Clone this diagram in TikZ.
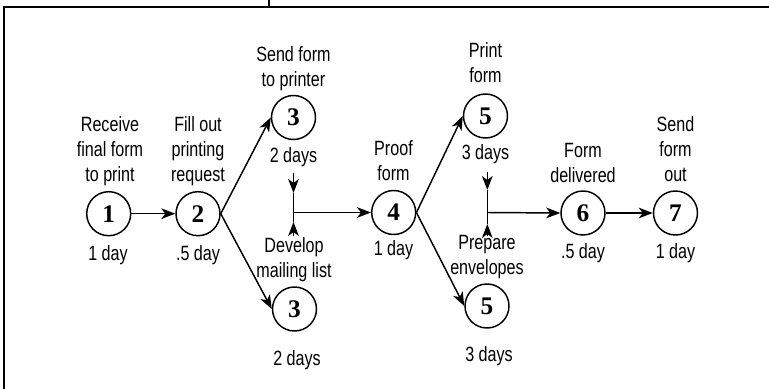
\documentclass[tikz,border=0pt]{standalone}
\usepackage{fontspec}
\usetikzlibrary{arrows.meta}
\newfontfamily\lblfont{Liberation Sans}[FakeStretch=0.78]
\newfontfamily\numfont{Liberation Serif}
\begin{document}
\begin{tikzpicture}[x=0.75pt,y=-0.75pt,
  arr/.style={line width=1.1pt,-{Stealth[length=10.5pt,width=8pt,inset=3pt]}},
  link/.style={line width=1.1pt},
  event/.style={circle,draw,line width=1.1pt,minimum size=33pt,inner sep=0pt,
    font=\numfont\bfseries\fontsize{19}{20}\selectfont},
  task/.style={align=center,inner sep=0pt,text depth=3.7pt,anchor=south,
    font=\lblfont\fontsize{15.5}{18.75}\selectfont},
  dur/.style={inner sep=0pt,anchor=base,font=\lblfont\fontsize{15.5}{18.75}\selectfont}]
\useasboundingbox (0,0) rectangle (769,389);

% frame
\draw[line width=1.7pt] (4,389) -- (4,7) -- (769,7);
\draw[line width=0.8pt] (269,0) -- (269,7);

% events
\node[event] (n1)  at (108.7,213.7) {1};
\node[event] (n2)  at (198,213.7) {2};
\node[event] (n3a) at (293.5,117.5) {3};
\node[event] (n3b) at (294.5,309) {3};
\node[event] (n4)  at (393.7,212.5) {4};
\node[event] (n5a) at (485.5,116) {5};
\node[event] (n5b) at (487,306) {5};
\node[event] (n6)  at (583,213) {6};
\node[event] (n7)  at (675.5,213) {7};

% task descriptions
\node[task] (t1)  at (110,186.9) {Receive\\final form\\to print};
\node[task] (t2)  at (198,186.9) {Fill out\\printing\\request};
\node[task] (t3a) at (293.5,91.9) {Send form\\to printer};
\node[task] (t3b) at (294,282.9) {Develop\\mailing list};
\node[task] (t4)  at (393.5,185.9) {Proof\\form};
\node[task] (t5a) at (485.5,87.9) {Print\\form};
\node[task] (t5b) at (487,279.9) {Prepare\\envelopes};
\node[task] (t6)  at (583,187.9) {Form\\delivered};
\node[task] (t7)  at (675.5,186.9) {Send\\form\\out};

% durations
\node[dur] (d1)  at (108,260) {1 day};
\node[dur] (d2)  at (198,260) {.5 day};
\node[dur] (d3a) at (293.5,162) {2 days};
\node[dur] (d3b) at (297,365) {2 days};
\node[dur] (d4)  at (393.5,255) {1 day};
\node[dur] (d5a) at (485.5,159) {3 days};
\node[dur] (d5b) at (489,361) {3 days};
\node[dur] (d6)  at (583,258) {.5 day};
\node[dur] (d7)  at (675.5,258) {1 day};

% merge points
\coordinate (j1)  at (293.5,212.5);
\coordinate (j1t) at (293.5,173);
\coordinate (j1u) at (293.5,193);
\coordinate (j1d) at (293.5,222);
\coordinate (j1b) at (293.5,236);
\coordinate (j2)  at (487.3,212.5);
\coordinate (j2t) at (487.3,172);
\coordinate (j2u) at (487.3,190);
\coordinate (j2d) at (487.3,224);
\coordinate (j2b) at (487.3,236);

% connectors
\draw[arr] (n1.east) -- (n2.west);
\draw[arr] (n2.east) -- (n3a.west);
\draw[arr] (n2.east) -- (n3b.west);
\draw[link] (j1u) -- (j1d);
\draw[arr] (j1t) -- (j1u);
\draw[arr] (j1b) -- (j1d);
\draw[arr] (j1) -- (n4.west);
\draw[arr] (n4.east) -- (n5a.west);
\draw[arr] (n4.east) -- (n5b.west);
\draw[link] (j2u) -- (j2d);
\draw[arr] (j2t) -- (j2u);
\draw[arr] (j2b) -- (j2d);
\draw[arr] (j2) -- (n6.west);
\draw[arr] (n6.east) -- (n7.west);
\end{tikzpicture}
\end{document}
